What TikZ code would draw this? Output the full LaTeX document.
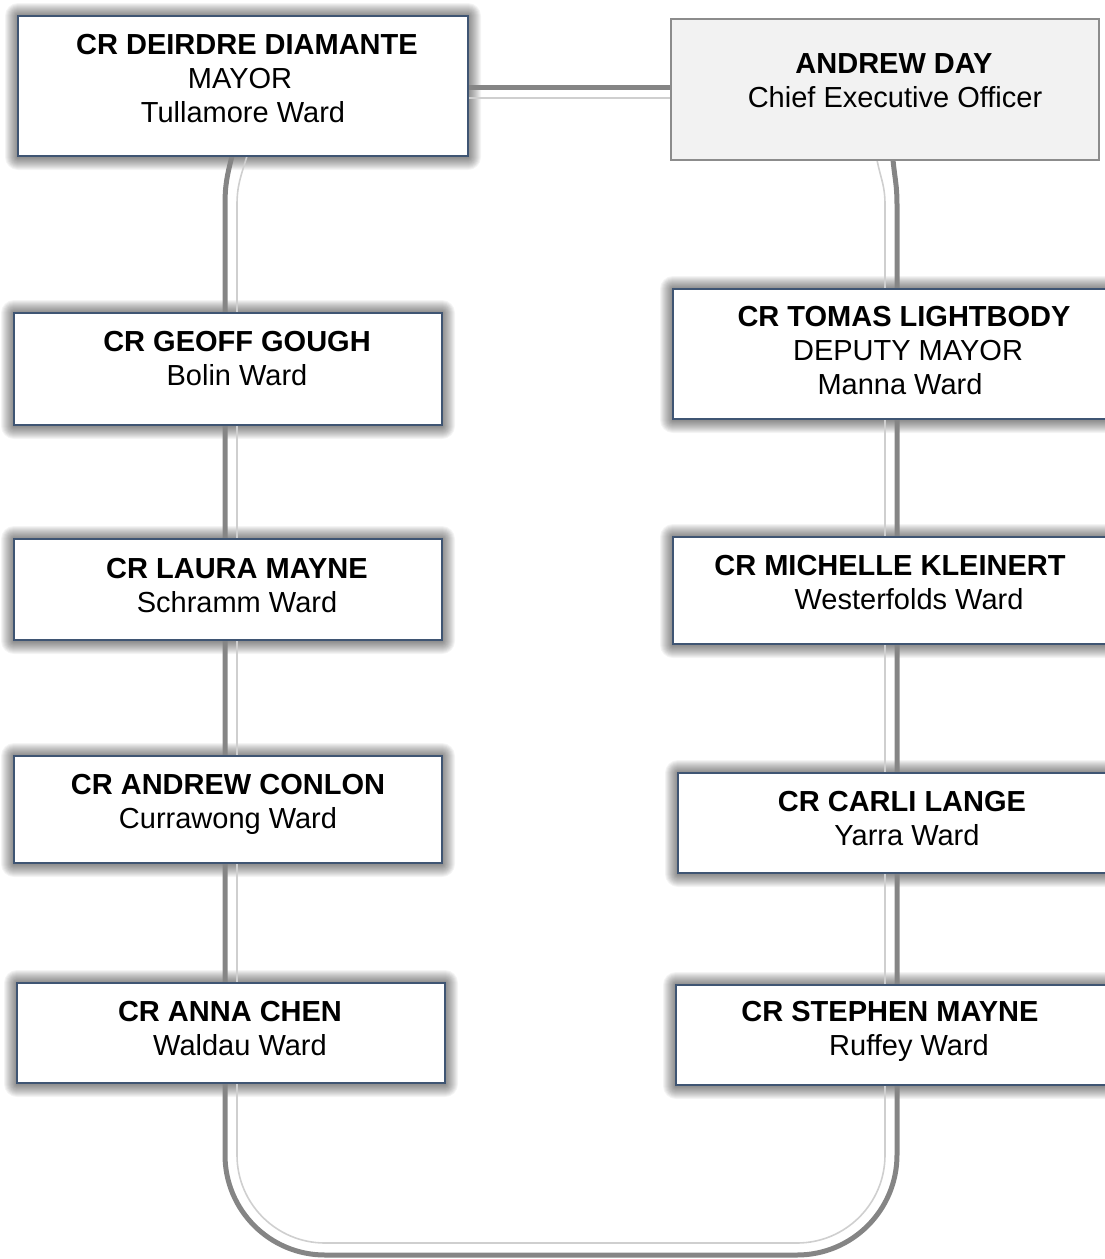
\documentclass[tikz,border=0pt]{standalone}
\usepackage{fontspec}
\setmainfont{Liberation Sans}
\usetikzlibrary{calc}
\pgfdeclarelayer{shadow}
\pgfdeclarelayer{pipes}
\pgfsetlayers{shadow,pipes,main}
\definecolor{boxline}{HTML}{3F5573}
\definecolor{ceofill}{HTML}{F2F2F2}
\definecolor{ceoline}{HTML}{8C8C8C}
\definecolor{pipedark}{HTML}{858585}
\definecolor{pipelight}{HTML}{CFCFCF}
\newcommand\orgmember[5]{%
  \begin{pgfonlayer}{shadow}
    \foreach \s in {1,...,13} {\fill[black, opacity=0.042, rounded corners=\s pt] ({#2-\s},{#3-\s}) rectangle ({#4+\s},{#5+\s+1});}
  \end{pgfonlayer}
  \node[member, minimum width={#4-#2}, minimum height={#5-#3}] (#1) at (#2,#3) {};}
\begin{document}
\begin{tikzpicture}[x=1pt,y=-1pt,
  member/.style={draw=boxline, line width=1.3pt, fill=white, inner sep=0pt, outer sep=0pt, anchor=north west},
  ceobox/.style={draw=ceoline, line width=1.5pt, fill=ceofill, inner sep=0pt, outer sep=0pt, anchor=north west},
  nm/.style={font=\fontsize{29}{34}\selectfont\bfseries, anchor=base, inner sep=0pt},
  rl/.style={font=\fontsize{29}{34}\selectfont, anchor=base, inner sep=0pt},
  pipeout/.style={draw=pipedark, line width=5pt},
  pipein/.style={draw=pipelight, line width=1.6pt},
]
\useasboundingbox (0,0) rectangle (1105,1259);

% boxes
\orgmember{mayor}{18}{16}{468}{156}
\node[ceobox, minimum width=428, minimum height=141] (ceo) at (671,19) {};
\orgmember{geoff}{14}{313}{442}{425}
\orgmember{tomas}{673}{289}{1112}{419}
\orgmember{laura}{14}{539}{442}{640}
\orgmember{michelle}{673}{537}{1112}{644}
\orgmember{conlon}{14}{756}{442}{863}
\orgmember{carli}{678}{773}{1112}{873}
\orgmember{anna}{17}{983}{445}{1083}
\orgmember{stephen}{676}{985}{1112}{1085}

% connectors
\begin{pgfonlayer}{pipes}
\draw[pipeout] ($(mayor.south)+(-11,0)$) .. controls +(-5,20) and +(0,-20) .. (225,205)
  -- (225,1155) arc(180:90:100) -- (797,1255) arc(90:0:100) -- (897,205)
  .. controls +(0,-20) and +(2,20) .. ($(ceo.south)+(8,0)$);
\draw[pipein] ($(mayor.south)+(4,0)$) .. controls +(-6,20) and +(0,-20) .. (237,205)
  -- (237,1155) arc(180:90:88) -- (797,1243) arc(90:0:88) -- (885,205)
  .. controls +(0,-20) and +(4,20) .. ($(ceo.south)+(-8,0)$);
\draw[pipeout] ($(mayor.east)+(0,1)$) -- ($(ceo.west)+(0,-2.5)$);
\draw[pipein] ($(mayor.east)+(0,12)$) -- ($(ceo.west)+(0,8.5)$);
\end{pgfonlayer}

% texts
\node[nm] (mayor-1) at (247,54) {CR DEIRDRE DIAMANTE};
\node[rl] (mayor-2) at (240,88) {MAYOR};
\node[rl] (mayor-3) at (243,122) {Tullamore Ward};

\node[nm] (ceo-1) at (894,73) {ANDREW DAY};
\node[rl] (ceo-2) at (895,107) {Chief Executive Officer};

\node[nm] (geoff-1) at (237,351) {CR GEOFF GOUGH};
\node[rl] (geoff-2) at (237,385) {Bolin Ward};

\node[nm] (tomas-1) at (904,326) {CR TOMAS LIGHTBODY};
\node[rl] (tomas-2) at (908,360) {DEPUTY MAYOR};
\node[rl] (tomas-3) at (900,394) {Manna Ward};

\node[nm] (laura-1) at (237,578) {CR LAURA MAYNE};
\node[rl] (laura-2) at (237,612) {Schramm Ward};

\node[nm] (michelle-1) at (890,575) {CR MICHELLE KLEINERT};
\node[rl] (michelle-2) at (909,609) {Westerfolds Ward};

\node[nm] (conlon-1) at (228,794) {CR ANDREW CONLON};
\node[rl] (conlon-2) at (228,828) {Currawong Ward};

\node[nm] (carli-1) at (902,811) {CR CARLI LANGE};
\node[rl] (carli-2) at (907,845) {Yarra Ward};

\node[nm] (anna-1) at (230,1021) {CR ANNA CHEN};
\node[rl] (anna-2) at (240,1055) {Waldau Ward};

\node[nm] (stephen-1) at (890,1021) {CR STEPHEN MAYNE};
\node[rl] (stephen-2) at (909,1055) {Ruffey Ward};
\end{tikzpicture}
\end{document}
